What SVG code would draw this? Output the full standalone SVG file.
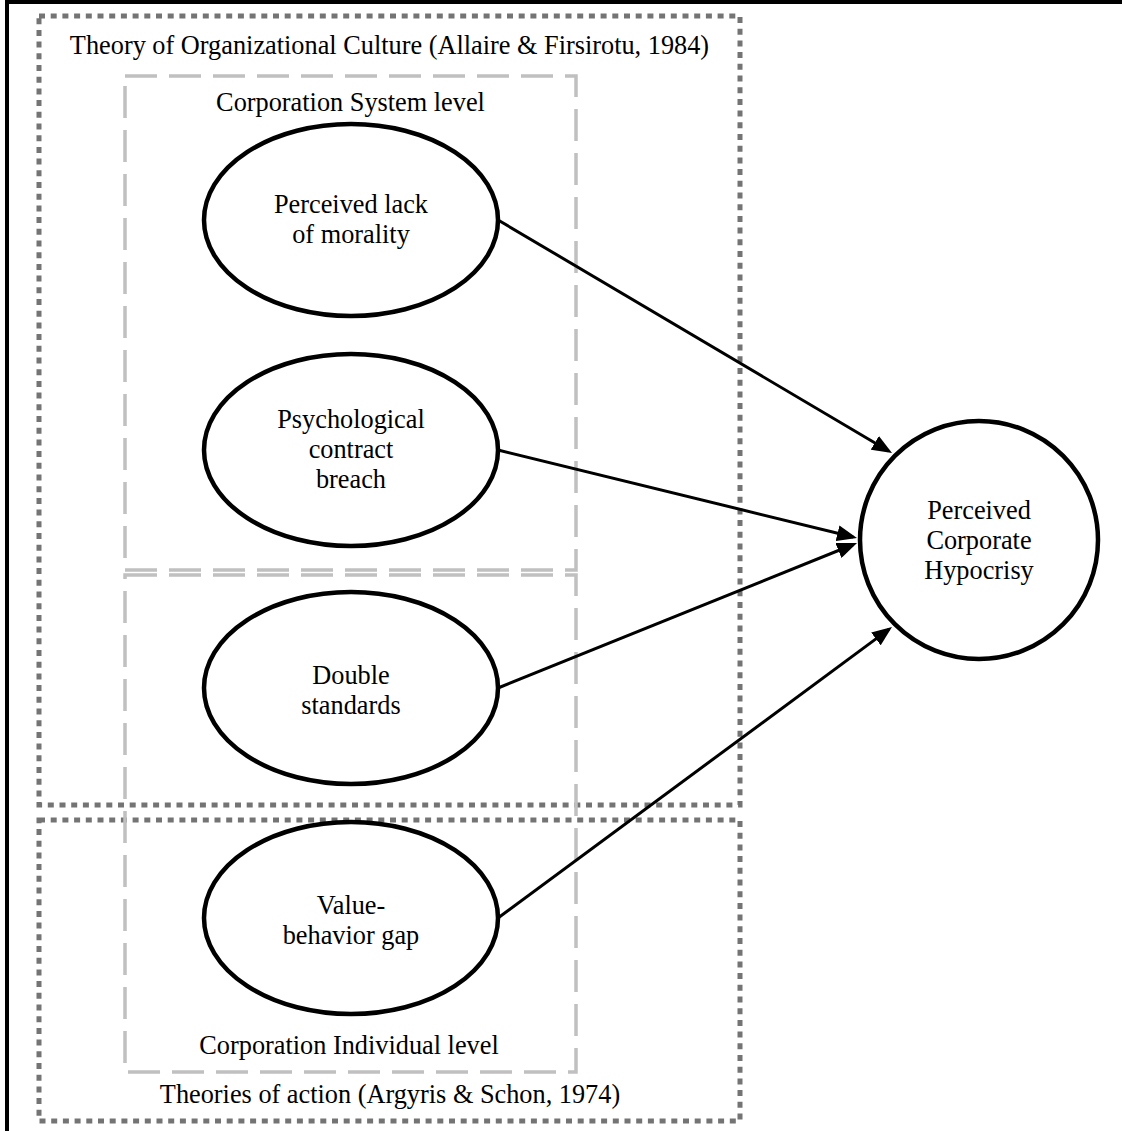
<svg xmlns="http://www.w3.org/2000/svg" width="1122" height="1131" viewBox="0 0 1122 1131">
<defs>
<style>
.t{font-family:"Liberation Serif","Times New Roman",serif;font-size:26.3px;fill:#000;text-anchor:middle}
.dot{fill:none;stroke:#747474;stroke-width:5;stroke-dasharray:6 5.7}
.dash{fill:none;stroke:#c0c0c0;stroke-width:3.5;stroke-dasharray:32 12}
.node{fill:#fff;stroke:#000;stroke-width:4.5}
.conn{fill:none;stroke:#000;stroke-width:3;marker-end:url(#ah)}
</style>
<marker id="ah" markerUnits="userSpaceOnUse" markerWidth="20" markerHeight="16" refX="16" refY="8" orient="auto">
<path d="M0,0 L20,8 L0,16 z" fill="#000"/>
</marker>
</defs>
<rect width="1122" height="1131" fill="#fff"/>
<path d="M7,1131 V2 H1122" fill="none" stroke="#000" stroke-width="4"/>

<g id="theory-org-culture">
<rect class="dot" x="39" y="16" width="701" height="789"/>
<text class="t" x="389.5" y="54">Theory of Organizational Culture (Allaire &amp; Firsirotu, 1984)</text>
</g>
<g id="theories-of-action">
<rect class="dot" x="39" y="820" width="701" height="301"/>
<text class="t" x="390" y="1103">Theories of action (Argyris &amp; Schon, 1974)</text>
</g>
<g id="system-level">
<rect class="dash" x="125" y="76" width="451" height="494"/>
<text class="t" x="350.5" y="111">Corporation System level</text>
</g>
<g id="individual-level">
<rect class="dash" x="125" y="575" width="451" height="497"/>
<text class="t" x="349" y="1054">Corporation Individual level</text>
</g>

<g id="connectors">
<line class="conn" x1="498" y1="220" x2="888.6" y2="451"/>
<line class="conn" x1="498" y1="450" x2="853.1" y2="537"/>
<line class="conn" x1="498" y1="688" x2="853.3" y2="544.5"/>
<line class="conn" x1="498" y1="918" x2="888.8" y2="629.4"/>
</g>

<g id="lack-of-morality">
<ellipse class="node" cx="351" cy="220" rx="147" ry="96"/>
<text class="t" x="351" y="213">Perceived lack</text>
<text class="t" x="351" y="243">of morality</text>
</g>
<g id="contract-breach">
<ellipse class="node" cx="351" cy="450" rx="147" ry="96"/>
<text class="t" x="351" y="428">Psychological</text>
<text class="t" x="351" y="458">contract</text>
<text class="t" x="351" y="488">breach</text>
</g>
<g id="double-standards">
<ellipse class="node" cx="351" cy="688" rx="147" ry="96"/>
<text class="t" x="351" y="684">Double</text>
<text class="t" x="351" y="714">standards</text>
</g>
<g id="value-behavior-gap">
<ellipse class="node" cx="351" cy="918" rx="147" ry="96"/>
<text class="t" x="351" y="914">Value-</text>
<text class="t" x="351" y="944">behavior gap</text>
</g>
<g id="corporate-hypocrisy">
<circle class="node" cx="979" cy="540" r="119"/>
<text class="t" x="979" y="519">Perceived</text>
<text class="t" x="979" y="549">Corporate</text>
<text class="t" x="979" y="579">Hypocrisy</text>
</g>
</svg>
